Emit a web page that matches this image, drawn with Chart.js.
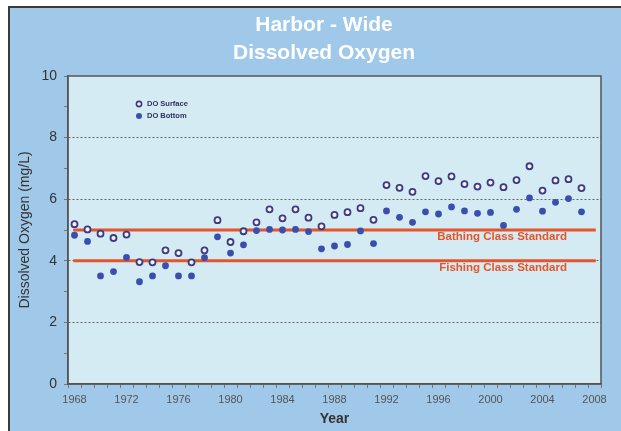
<!DOCTYPE html>
<html>
<head>
<meta charset="utf-8">
<script src="https://cdn.jsdelivr.net/npm/chart.js@4.4.0/dist/chart.umd.min.js"></script>
<style>
  html, body { margin: 0; padding: 0; background: #ffffff; }
  #panel {
    position: absolute; left: 8px; top: 6px; width: 613px; height: 425px;
    background: #a0c9e9; border-left: 2px solid #3a3a3a; border-top: 2px solid #3a3a3a;
  }
  #wrap { position: absolute; left: 0; top: 0; width: 621px; height: 431px; }
</style>
</head>
<body>
<div id="panel"></div>
<div id="wrap"><canvas id="myChart"></canvas></div>
<script>
// data
const years = [1968, 1969, 1970, 1971, 1972, 1973, 1974, 1975, 1976, 1977,
  1978, 1979, 1980, 1981, 1982, 1983, 1984, 1985, 1986, 1987,
  1988, 1989, 1990, 1991, 1992, 1993, 1994, 1995, 1996, 1997,
  1998, 1999, 2000, 2001, 2002, 2003, 2004, 2005, 2006, 2007];
const doSurface = [5.19, 5.02, 4.88, 4.74, 4.85, 3.96, 3.95, 4.34, 4.25, 3.95,
  4.34, 5.32, 4.61, 4.96, 5.25, 5.67, 5.38, 5.67, 5.40, 5.12,
  5.49, 5.58, 5.71, 5.33, 6.46, 6.37, 6.24, 6.75, 6.59, 6.74,
  6.49, 6.41, 6.54, 6.39, 6.62, 7.07, 6.28, 6.61, 6.65, 6.36];
const doBottom = [4.83, 4.63, 3.51, 3.65, 4.11, 3.32, 3.51, 3.84, 3.51, 3.51,
  4.10, 4.78, 4.25, 4.52, 4.98, 5.02, 5.00, 5.02, 4.95, 4.39,
  4.48, 4.53, 4.97, 4.56, 5.62, 5.41, 5.25, 5.59, 5.52, 5.75,
  5.62, 5.54, 5.57, 5.15, 5.67, 6.04, 5.61, 5.90, 6.02, 5.59];
const standardNames = ["Bathing Class Standard", "Fishing Class Standard"];
const standardValues = [5, 4];
const standardSpan = [1967.9, 2008.1];
const xTickLabels = [1968, 1972, 1976, 1980, 1984, 1988, 1992, 1996, 2000, 2004, 2008];
const yTickLabels = [0, 2, 4, 6, 8, 10];
const titleLines = ["Harbor - Wide", "Dissolved Oxygen"];

Chart.defaults.font.family = "'Liberation Sans', Arial, sans-serif";

const toPoints = (vals) => years.map((y, i) => ({ x: y, y: vals[i] }));

const datasets = [
  {
    label: "DO Surface",
    data: toPoints(doSurface),
    pointRadius: 3,
    pointBorderWidth: 1.8,
    pointBorderColor: "#3d3a80",
    pointBackgroundColor: "#f2f4fb",
    showLine: false,
  },
  {
    label: "DO Bottom",
    data: toPoints(doBottom),
    pointRadius: 3.4,
    pointBorderWidth: 0,
    pointBackgroundColor: "#3a4fad",
    showLine: false,
  },
];
standardValues.forEach((v, i) => {
  datasets.push({
    type: "line",
    label: standardNames[i],
    data: standardSpan.map((x) => ({ x: x, y: v })),
    borderColor: "#e4552b",
    borderWidth: 3,
    pointRadius: 0,
  });
});

// plot background, frame, standard labels, legend and title
const decor = {
  id: "decor",
  beforeDraw(chart) {
    const { ctx, chartArea: a } = chart;
    ctx.save();
    ctx.fillStyle = "#d4ebf4";
    ctx.fillRect(a.left, a.top, a.right - a.left, a.bottom - a.top);
    ctx.restore();
  },
  afterDatasetsDraw(chart) {
    const { ctx, chartArea: a } = chart;
    const ys = chart.scales.y;
    ctx.save();
    ctx.strokeStyle = "#555";
    ctx.lineWidth = 1.5;
    ctx.strokeRect(a.left, a.top, a.right - a.left, a.bottom - a.top);

    // standard labels
    ctx.font = "bold 11.5px 'Liberation Sans', Arial, sans-serif";
    ctx.fillStyle = "#e4552b";
    ctx.textAlign = "right";
    ctx.textBaseline = "middle";
    standardValues.forEach((v, i) => {
      ctx.fillText(standardNames[i], 567, ys.getPixelForValue(v) + 7);
    });

    // legend
    const lx = a.left + 71, ly = a.top + 28;
    ctx.font = "bold 7.5px 'Liberation Sans', Arial, sans-serif";
    ctx.textAlign = "left";
    ctx.fillStyle = "#2f2f5e";
    ctx.beginPath();
    ctx.arc(lx, ly, 2.6, 0, Math.PI * 2);
    ctx.fillStyle = "#f2f4fb";
    ctx.fill();
    ctx.lineWidth = 1.6;
    ctx.strokeStyle = "#3d3a80";
    ctx.stroke();
    ctx.beginPath();
    ctx.arc(lx, ly + 12, 3, 0, Math.PI * 2);
    ctx.fillStyle = "#3a4fad";
    ctx.fill();
    ctx.fillStyle = "#2f2f5e";
    ctx.fillText(datasets[0].label, lx + 8, ly);
    ctx.fillText(datasets[1].label, lx + 8, ly + 12);

    // title
    ctx.font = "bold 21px 'Liberation Sans', Arial, sans-serif";
    ctx.fillStyle = "#ffffff";
    ctx.textAlign = "center";
    ctx.fillText(titleLines[0], 324, 25);
    ctx.fillText(titleLines[1], 324, 53);
    ctx.restore();
  },
};

var ctx = document.getElementById("myChart").getContext("2d");
var mychart = new Chart(ctx, {
  type: "scatter",
  data: { datasets: datasets },
  plugins: [decor],
  options: {
    responsive: true,
    maintainAspectRatio: false,
    animation: false,
    layout: { padding: { left: 0, right: 20, top: 76, bottom: 0 } },
    plugins: {
      legend: { display: false },
      title: { display: false },
      tooltip: { enabled: false },
    },
    scales: {
      x: {
        type: "linear",
        min: 1967.5,
        max: 2008.5,
        afterBuildTicks: (scale) => {
          const t = [];
          for (let v = 1968; v <= 2008; v++) t.push({ value: v });
          scale.ticks = t;
        },
        afterFit: (scale) => { scale.height = 47; },
        ticks: {
          autoSkip: false,
          maxRotation: 0,
          padding: 5,
          color: "#555",
          font: { size: 11 },
          callback: (v) => (xTickLabels.includes(v) ? String(v) : ""),
        },
        grid: {
          offset: true,
          drawOnChartArea: false,
          tickLength: 4,
          tickColor: "#777",
        },
        border: { color: "#555", width: 1.5 },
        title: {
          display: true,
          text: "Year",
          color: "#333",
          font: { size: 14, weight: "bold" },
          padding: { top: 0, bottom: 3 },
        },
      },
      y: {
        min: 0,
        max: 10,
        afterFit: (scale) => { scale.width = 68; },
        ticks: {
          stepSize: 1,
          padding: 7,
          color: "#333",
          font: { size: 14 },
          callback: (v) => (yTickLabels.includes(v) ? String(v) : ""),
        },
        grid: {
          color: (c) => (c.tick && c.tick.value % 2 === 0 && c.tick.value > 0 && c.tick.value < 10 ? "#666" : "rgba(0,0,0,0)"),
          tickColor: "#777",
          tickLength: 4,
          lineWidth: 1,
        },
        border: { color: "#555", width: 1.5, dash: [2, 2] },
        title: {
          display: true,
          text: "Dissolved Oxygen (mg/L)",
          color: "#333",
          font: { size: 14 },
          padding: { top: 17, bottom: 0 },
        },
      },
    },
  },
});
</script>
</body>
</html>
